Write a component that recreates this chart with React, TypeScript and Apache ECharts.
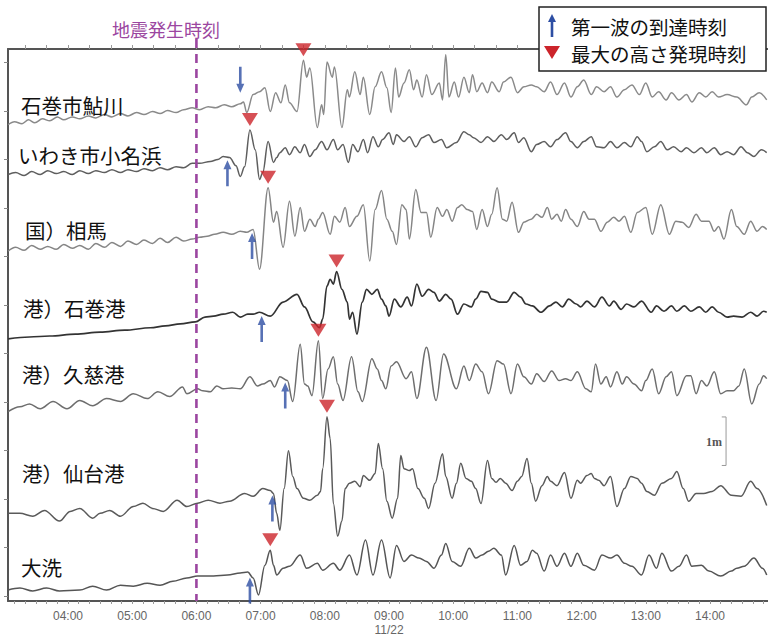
import React, { useEffect, useRef } from 'react';
import * as echarts from 'echarts';

// Stations (top to bottom)
const stationNames = ['石巻市鮎川', 'いわき市小名浜', '国）相馬', '港）石巻港', '港）久慈港', '港）仙台港', '大洗'];
// vertical offset of each trace on the stacked chart (m)
const traceOffsets = [9.713, 8.686, 7.105, 5.318, 3.799, 1.704, 0.123];
const traceColors = ['#8a8a8a', '#5e5e5e', '#858585', '#333333', '#6e6e6e', '#5a5a5a', '#555555'];

// Records: [minutes since 00:00 (11/22), water level change (cm)]
const ayukawa = [[184,0],[190,6],[197,2],[203,10],[209,4],[216,12],[223,8],[230,16],[236,10],[244,16],[251,12],[259,18],[266,14],[274,21],[281,16],[289,23],[296,18],[304,25],[311,21],[319,27],[326,23],[333,29],[341,25],[348,31],[356,35],[363,31],[371,37],[378,35],[386,41],[393,37],[401,43],[404,47],[407,25],[413,62],[419,68],[424,76],[429,27],[434,66],[439,45],[443,82],[447,45],[454,27],[460,133],[463,98],[466,117],[473,-6],[477,41],[479,21],[482,129],[487,98],[489,119],[496,-6],[501,72],[503,57],[508,109],[513,62],[516,98],[522,21],[527,78],[533,109],[538,76],[542,25],[546,117],[549,57],[554,86],[559,113],[563,72],[566,92],[571,57],[575,103],[580,62],[587,86],[590,51],[593,144],[596,57],[601,88],[605,57],[610,98],[615,66],[618,103],[622,68],[627,86],[632,66],[636,88],[643,68],[647,88],[654,98],[660,66],[666,78],[673,82],[678,78],[685,68],[691,88],[697,62],[704,86],[710,57],[716,78],[722,92],[729,62],[734,78],[741,68],[747,78],[753,57],[760,72],[767,82],[774,62],[780,86],[786,57],[792,68],[799,51],[804,66],[811,51],[818,62],[823,47],[830,66],[836,57],[842,68],[848,57],[856,62],[865,57],[874,41],[879,57],[886,66],[893,51]];
const iwaki = [[184,0],[191,4],[199,-2],[206,6],[214,0],[221,8],[229,2],[236,6],[244,0],[251,8],[259,2],[266,8],[274,4],[281,10],[289,4],[296,10],[304,6],[311,12],[319,8],[326,14],[333,10],[341,16],[348,14],[356,23],[363,23],[373,27],[380,31],[385,37],[391,35],[397,18],[401,-4],[405,16],[410,92],[415,51],[419,-10],[422,4],[427,68],[432,25],[435,35],[438,45],[443,55],[447,41],[452,57],[457,45],[461,62],[466,37],[471,51],[477,68],[482,51],[488,72],[492,51],[497,62],[502,25],[506,62],[511,47],[516,72],[520,45],[525,78],[530,57],[534,72],[540,86],[544,62],[547,82],[554,68],[559,78],[565,57],[571,76],[577,82],[582,66],[589,72],[594,55],[603,66],[610,88],[615,82],[619,76],[626,66],[632,78],[638,68],[645,82],[650,72],[657,86],[661,66],[666,76],[673,47],[678,62],[685,68],[691,57],[697,72],[705,86],[710,68],[716,55],[722,68],[729,78],[734,57],[741,55],[747,68],[753,55],[760,66],[766,57],[772,78],[776,68],[781,47],[788,57],[794,68],[800,51],[806,57],[813,47],[818,55],[825,45],[832,55],[837,45],[844,55],[850,41],[856,47],[862,41],[869,57],[875,45],[881,37],[888,51],[893,45]];
const soma = [[184,0],[191,8],[199,2],[206,12],[214,4],[221,10],[229,4],[236,14],[244,6],[251,12],[259,4],[266,16],[274,8],[281,18],[289,10],[296,21],[304,14],[311,23],[319,16],[326,27],[333,18],[341,29],[348,21],[356,25],[363,29],[370,31],[377,35],[385,39],[393,35],[401,41],[407,39],[413,45],[419,-37],[427,131],[432,60],[435,82],[441,8],[447,103],[452,31],[457,90],[461,41],[466,66],[471,51],[474,66],[478,80],[485,35],[489,72],[494,60],[499,90],[503,51],[510,72],[516,96],[522,-20],[527,86],[533,125],[538,66],[543,41],[547,14],[552,96],[556,86],[559,25],[565,127],[570,80],[575,80],[579,29],[585,90],[590,72],[594,86],[599,62],[604,90],[608,96],[613,86],[618,82],[622,45],[627,86],[632,51],[636,76],[641,131],[646,66],[650,62],[655,101],[661,39],[666,60],[673,66],[678,76],[683,70],[688,90],[692,66],[697,76],[701,62],[705,86],[710,66],[716,51],[722,82],[727,66],[732,66],[738,41],[744,60],[750,70],[755,62],[760,72],[766,39],[772,80],[780,90],[786,35],[794,96],[802,35],[808,62],[814,60],[820,49],[827,76],[832,62],[839,62],[844,41],[848,51],[853,25],[860,86],[865,51],[872,35],[878,62],[884,41],[889,51],[893,45]];
const ishinomakiPort = [[184,-2],[204,2],[223,4],[247,8],[270,12],[293,16],[317,21],[331,25],[345,29],[359,33],[368,43],[376,45],[385,49],[394,53],[401,43],[408,49],[413,49],[419,53],[429,45],[441,74],[454,90],[461,64],[469,33],[475,21],[478,39],[482,107],[485,121],[488,111],[491,137],[496,100],[501,74],[503,39],[506,53],[510,8],[515,74],[519,100],[524,90],[529,100],[533,80],[537,66],[540,45],[545,80],[551,64],[557,84],[561,66],[566,111],[571,86],[577,100],[582,94],[587,76],[593,90],[598,80],[604,49],[610,70],[617,64],[621,80],[626,96],[632,94],[636,80],[643,74],[650,74],[657,94],[663,84],[668,70],[674,66],[682,53],[690,66],[696,74],[702,64],[708,80],[715,70],[719,64],[725,76],[732,64],[739,84],[746,66],[750,76],[757,59],[762,70],[769,64],[776,76],[785,53],[790,66],[797,55],[804,66],[809,55],[816,66],[822,55],[830,64],[836,53],[842,64],[848,53],[856,43],[862,45],[870,43],[878,53],[884,45],[890,55],[893,53]];
const kuji = [[184,0],[195,10],[204,16],[214,6],[226,21],[239,6],[251,23],[263,12],[276,27],[289,21],[301,37],[314,27],[324,41],[335,31],[347,51],[351,37],[361,47],[366,43],[373,41],[379,53],[385,47],[393,49],[401,47],[410,72],[417,53],[422,57],[429,64],[433,51],[438,72],[445,64],[450,21],[457,139],[461,57],[464,53],[468,33],[474,146],[478,27],[483,88],[488,113],[492,57],[497,23],[505,113],[511,41],[515,21],[524,109],[529,88],[533,64],[537,47],[542,94],[547,103],[556,68],[561,82],[566,27],[575,133],[584,23],[591,119],[603,47],[610,94],[615,64],[621,98],[627,82],[633,37],[641,105],[647,98],[654,37],[660,98],[666,72],[673,57],[678,78],[685,62],[692,84],[699,64],[705,68],[710,64],[716,82],[724,47],[729,41],[733,98],[738,57],[743,72],[747,51],[753,82],[758,57],[762,72],[769,57],[776,43],[780,64],[786,88],[792,37],[799,72],[804,82],[809,33],[818,74],[822,74],[827,37],[832,64],[837,53],[844,82],[850,37],[856,43],[862,43],[867,53],[872,88],[879,16],[886,57],[890,74],[893,68]];
const sendai = [[184,0],[195,0],[207,-6],[218,6],[232,-16],[242,4],[251,10],[263,-10],[270,0],[279,6],[289,-6],[301,14],[310,21],[319,10],[329,4],[342,27],[351,14],[361,21],[371,27],[382,21],[391,25],[405,41],[413,35],[422,51],[429,47],[432,41],[435,0],[438,-35],[442,51],[446,129],[450,76],[454,51],[460,31],[466,27],[473,37],[476,45],[478,92],[482,199],[485,154],[488,20],[492,-47],[496,-16],[499,51],[503,62],[508,66],[513,55],[516,78],[522,68],[527,82],[530,144],[534,92],[538,25],[543,-10],[548,31],[551,119],[554,92],[559,88],[562,92],[567,51],[573,31],[577,10],[583,62],[590,123],[593,76],[599,31],[603,62],[607,103],[612,72],[617,66],[621,51],[626,20],[632,109],[636,72],[640,64],[644,72],[649,62],[655,47],[660,66],[664,76],[669,113],[673,62],[677,25],[683,57],[688,76],[691,66],[697,57],[704,84],[710,31],[716,68],[719,62],[725,78],[729,82],[732,72],[736,68],[741,57],[747,76],[753,14],[760,51],[766,76],[772,72],[776,62],[781,45],[788,37],[795,62],[804,72],[809,86],[815,51],[820,25],[827,41],[834,41],[842,45],[850,57],[860,37],[869,35],[878,66],[884,51],[893,16]];
const oarai = [[184,0],[195,4],[207,-2],[220,4],[232,-2],[251,0],[263,8],[276,0],[289,10],[301,8],[314,14],[326,10],[338,18],[351,25],[361,29],[376,29],[389,31],[401,35],[408,37],[413,25],[418,-10],[424,51],[429,82],[432,51],[435,31],[441,45],[447,49],[457,72],[463,45],[473,55],[478,41],[488,55],[494,41],[503,72],[510,31],[518,103],[525,31],[533,103],[541,25],[547,92],[554,59],[561,72],[568,66],[575,59],[582,45],[589,72],[593,96],[599,59],[607,49],[615,86],[621,66],[627,72],[633,80],[638,86],[645,72],[649,31],[657,92],[663,51],[669,59],[674,82],[678,76],[685,39],[691,72],[697,49],[704,76],[710,49],[716,76],[722,51],[732,41],[739,72],[747,66],[753,72],[760,55],[767,49],[776,31],[783,72],[790,45],[795,76],[804,39],[811,49],[818,72],[823,49],[832,51],[839,39],[850,29],[860,39],[865,45],[872,49],[881,66],[889,45],[893,31]];

const records = [ayukawa, iwaki, soma, ishinomakiPort, kuji, sendai, oarai];
// first wave arrival and maximum height times (minutes)
const arrivalTimes = [401, 389, 412, 421, 443, 431, 410];
const arrowDirections = ['down', 'up', 'up', 'up', 'up', 'up', 'up'];
const peakTimes = [460, 410, 427, 491, 474, 482, 429];
const quakeTime = 360; // 06:00
const hourTicks = [240, 300, 360, 420, 480, 540, 600, 660, 720, 780, 840];
const dateLabelAt = 540;
const dateLabel = '11/22';
const timeMin = 183.9;
const timeMax = 894.2;
const levelMin = -0.103;
const levelMax = 11.273;
const meterTicks = [0, 1, 2, 3, 4, 5, 6, 7, 8, 9, 10, 11];
const scaleBarTime = 855;
const scaleBarBase = 2.69;
const scaleBarLength = 1; // m

const legendTexts = ['第一波の到達時刻', '最大の高さ発現時刻'];
const quakeTitle = '地震発生時刻';

function interp(rec: number[][], t: number): number {
  for (let i = 0; i < rec.length - 1; i++) {
    const [t0, v0] = rec[i];
    const [t1, v1] = rec[i + 1];
    if (t >= t0 && t <= t1) {
      return t1 === t0 ? v0 : v0 + ((v1 - v0) * (t - t0)) / (t1 - t0);
    }
  }
  return rec[rec.length - 1][1];
}

function fmtTime(v: number): string {
  const h = Math.round(v / 60);
  const s = String(h).padStart(2, '0') + ':00';
  return v === dateLabelAt ? s + '\n' + dateLabel : s;
}

const CJK = '"Noto Sans CJK JP", "Noto Sans CJK SC", sans-serif';
const labelY = [105, 155, 230, 308, 374, 473, 567];
const labelX = [21, 18, 25, 23, 22, 22, 21];

export default function App() {
  const ref = useRef<HTMLDivElement>(null);
  useEffect(() => {
    if (!ref.current) return;
    const chart = echarts.init(ref.current, undefined, { renderer: 'svg' });
    const minorTicks: number[] = [];
    for (let t = 190; t <= 890; t += 10) minorTicks.push(t);
    const topTicks: number[] = [];
    for (let t = 200; t <= 880; t += 20) topTicks.push(t);

    const traceSeries = records.map((rec, i) => ({
      type: 'line',
      name: stationNames[i],
      data: rec.map(([t, c]) => [t, traceOffsets[i] + c / 100]),
      showSymbol: false,
      symbol: 'none',
      smooth: 0.35,
      smoothMonotone: 'x',
      lineStyle: { color: traceColors[i], width: i === 3 ? 1.7 : 1.5 },
      silent: true,
      z: 2,
    }));

    const peakSeries = {
      type: 'scatter',
      data: peakTimes.map((t, i) => [t, traceOffsets[i] + interp(records[i], t) / 100]),
      symbol: 'path://M0,0L16,0L8,13Z',
      symbolSize: [16, 13],
      symbolOffset: [0, -10.5],
      itemStyle: { color: '#cc242b' },
      silent: true,
      z: 6,
    };

    const arrowSeries = {
      type: 'scatter',
      data: arrivalTimes.map((t, i) => ({
        value: [t, traceOffsets[i] + interp(records[i], t) / 100],
        symbolRotate: arrowDirections[i] === 'down' ? 180 : 0,
        symbolOffset: arrowDirections[i] === 'down' ? [0, -24] : [0, 16],
      })),
      symbol: 'path://M4,0L8,9L5.3,9L5.3,26L2.7,26L2.7,9L0,9Z',
      symbolSize: [8, 26],
      itemStyle: { color: '#2d4ea3' },
      silent: true,
      z: 6,
    };

    const scaleSeries = {
      type: 'line',
      data: [
        [scaleBarTime - 4, scaleBarBase + scaleBarLength],
        [scaleBarTime, scaleBarBase + scaleBarLength],
        [scaleBarTime, scaleBarBase],
        [scaleBarTime - 4, scaleBarBase],
      ],
      showSymbol: false,
      symbol: 'none',
      lineStyle: { color: '#999', width: 1 },
      silent: true,
    };

    chart.setOption({
      animation: false,
      grid: { left: 8, right: 0, top: 49, bottom: 34 },
      xAxis: [
        {
          type: 'value',
          min: timeMin,
          max: timeMax,
          position: 'bottom',
          axisLine: { show: true, onZero: false, lineStyle: { color: '#555', width: 2 } },
          axisTick: { show: true, customValues: minorTicks, length: 3, lineStyle: { color: '#999' } },
          axisLabel: {
            show: true,
            customValues: hourTicks,
            formatter: fmtTime,
            color: '#666',
            fontSize: 12,
            fontFamily: '"Liberation Sans", Arial, sans-serif',
            margin: 8,
            lineHeight: 14,
          },
          splitLine: { show: false },
        },
        {
          type: 'value',
          min: timeMin,
          max: timeMax,
          position: 'top',
          axisLine: { show: true, onZero: false, lineStyle: { color: '#555', width: 2 } },
          axisTick: { show: true, customValues: topTicks, length: 4, lineStyle: { color: '#999' } },
          axisLabel: { show: false },
          splitLine: { show: false },
        },
      ],
      yAxis: {
        type: 'value',
        min: levelMin,
        max: levelMax,
        axisLine: { show: true, onZero: false, lineStyle: { color: '#555', width: 2 } },
        axisTick: { show: true, customValues: meterTicks, length: 4, lineStyle: { color: '#888' } },
        axisLabel: { show: false },
        splitLine: { show: false },
      },
      series: [...traceSeries, scaleSeries, peakSeries, arrowSeries],
    });

    const qx = chart.convertToPixel({ xAxisIndex: 0 }, quakeTime) as number;
    const yb = chart.convertToPixel({ yAxisIndex: 0 }, levelMin) as number;

    const graphics: any[] = [
      {
        type: 'line',
        shape: { x1: qx, y1: 39, x2: qx, y2: yb },
        style: { stroke: '#9b46a0', lineWidth: 2.6, lineDash: [9, 6] },
        z: 10,
        silent: true,
      },
      {
        type: 'text',
        x: 112,
        y: 29,
        style: { text: quakeTitle, font: `18px ${CJK}`, fill: '#9b46a0', verticalAlign: 'middle', textVerticalAlign: 'middle' },
        z: 10,
      },
      {
        type: 'rect',
        shape: { x: 539, y: 7, width: 227, height: 64 },
        style: { fill: '#fff', stroke: '#222', lineWidth: 1.5 },
        z: 20,
      },
      {
        type: 'polygon',
        shape: { points: [[552, 14], [556, 22], [553.3, 22], [553.3, 37], [550.7, 37], [550.7, 22], [548, 22]] },
        style: { fill: '#2d4ea3' },
        z: 21,
      },
      {
        type: 'polygon',
        shape: { points: [[544, 46], [560, 46], [552, 59]] },
        style: { fill: '#cc242b' },
        z: 21,
      },
      {
        type: 'text',
        x: 571,
        y: 26,
        style: { text: legendTexts[0], font: `19.5px ${CJK}`, fill: '#111', verticalAlign: 'middle', textVerticalAlign: 'middle', lineHeight: 20 },
        z: 21,
      },
      {
        type: 'text',
        x: 571,
        y: 53,
        style: { text: legendTexts[1], font: `19.5px ${CJK}`, fill: '#111', verticalAlign: 'middle', textVerticalAlign: 'middle', lineHeight: 20 },
        z: 21,
      },
      {
        type: 'text',
        x: 706,
        y: 442,
        style: { text: '1m', font: 'bold 12px "Liberation Serif", "DejaVu Serif", serif', fill: '#555', verticalAlign: 'middle', textVerticalAlign: 'middle' },
        z: 10,
      },
      ...stationNames.map((name, i) => ({
        type: 'text',
        x: labelX[i],
        y: labelY[i],
        style: { text: name, font: `20.5px ${CJK}`, fill: '#111', verticalAlign: 'middle', textVerticalAlign: 'middle' },
        z: 10,
      })),
    ];
    chart.setOption({ graphic: graphics });

    return () => chart.dispose();
  }, []);

  return <div ref={ref} style={{ position: 'fixed', left: 0, top: 0, width: 768, height: 637, background: '#fff' }} />;
}
